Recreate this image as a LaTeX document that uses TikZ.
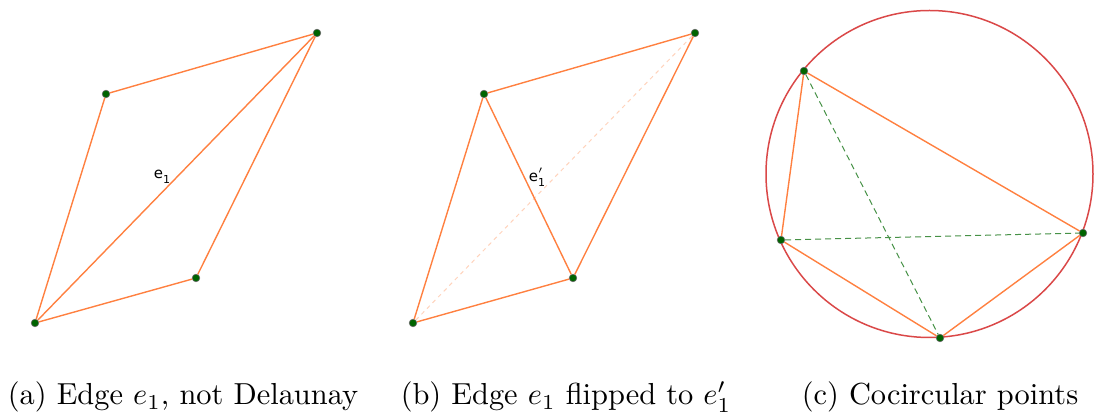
\documentclass[tikz,border=0pt]{standalone}
\usepackage{amsmath}
\usepackage{fontspec}
\usepackage{xcolor}
\newfontfamily\geofont{DejaVu Sans}
\definecolor{edgeorange}{RGB}{255,128,64}
\definecolor{vtxgreen}{RGB}{0,100,0}
\definecolor{circred}{RGB}{218,72,72}
\definecolor{diaggreen}{RGB}{70,145,70}
% small GeoGebra-like edge labels
\newcommand{\geolab}[2]{{\geofont\fontsize{7.5}{8}\selectfont e\rlap{\raisebox{0.55ex}{\fontsize{5}{5}\selectfont #2}}\raisebox{-0.55ex}{\fontsize{5.5}{5}\selectfont 1}}}

\begin{document}
\begin{tikzpicture}[x=0.5pt,y=-0.5pt,
  vtx/.style={circle,fill=vtxgreen,draw=black!60,line width=0.3pt,inner sep=0pt,minimum size=3.8pt},
  edge/.style={edgeorange,line width=0.7pt},
  ghost/.style={edgeorange!35,line width=0.5pt,dash pattern=on 2pt off 2pt},
  chord/.style={diaggreen,line width=0.5pt,dash pattern=on 3pt off 2pt},
  caption/.style={font=\normalsize,scale=1.52,transform shape}]
\useasboundingbox (0,0) rectangle (1094,416);

% Panel A: quadrilateral with the illegal diagonal
\begin{scope}[shift={(0,0)}]
\node[vtx] (a1) at (35,323) {};
\node[vtx] (a2) at (106,94) {};
\node[vtx] (a3) at (317,33) {};
\node[vtx] (a4) at (196,278) {};
\draw[edge] (a1) -- (a2) -- (a3) -- (a4) -- (a1);
\draw[edge] (a1) -- (a3);
\node (la) at (162,177) {\geolab{e}{}};
\node[caption] (capa) at (183,397) {(a) Edge $e_1$, not Delaunay};
\end{scope}

% Panel B: same points, diagonal flipped
\begin{scope}[shift={(378,0)}]
\node[vtx] (b1) at (35,323) {};
\node[vtx] (b2) at (106,94) {};
\node[vtx] (b3) at (317,33) {};
\node[vtx] (b4) at (195,278) {};
\draw[ghost] (b1) -- (b3);
\draw[edge] (b1) -- (b2) -- (b3) -- (b4) -- (b1);
\draw[edge] (b2) -- (b4);
\node (lb) at (159,177) {\geolab{e}{$'$}};
\node[caption] (capb) at (188,397) {(b) Edge $e_1$ flipped to $e'_1$};
\end{scope}

% Panel C: four points on one circle
\begin{scope}[shift={(0,0)}]
\draw[circred,line width=0.75pt] (929.5,174) circle[radius=163.5];
\node[vtx] (c1) at (804,71) {};
\node[vtx] (c2) at (781,240) {};
\node[vtx] (c3) at (1083,233) {};
\node[vtx] (c4) at (940,338) {};
\draw[chord] (c1) -- (c4);
\draw[chord] (c2) -- (c3);
\draw[edge] (c2) -- (c1) -- (c3) -- (c4) -- (c2);
\node[caption] (capc) at (940,397) {(c) Cocircular points};
\end{scope}
\end{tikzpicture}
\end{document}
